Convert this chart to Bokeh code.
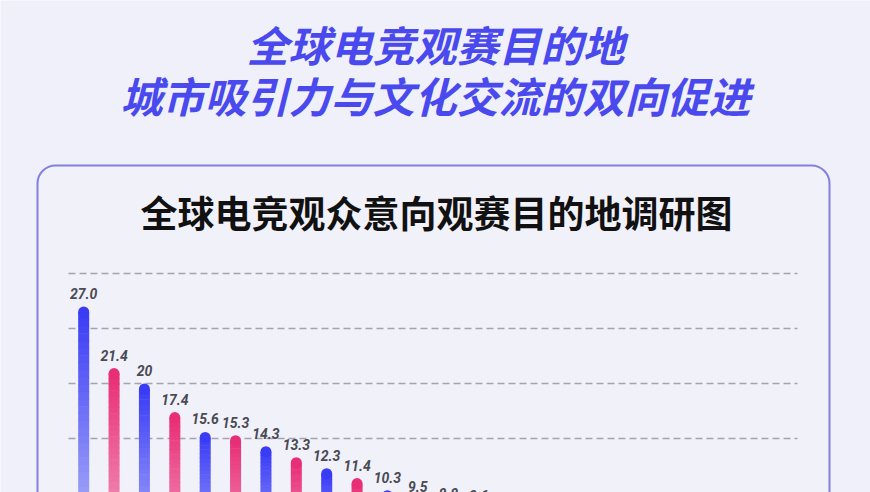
import numpy as np
from bokeh.plotting import figure
from bokeh.models import Range1d, Label, BoxAnnotation
from bokeh.core.properties import value
from bokeh.embed import file_html
from bokeh.resources import INLINE

# ---------------- data ----------------
title_line1 = "全球电竞观赛目的地"
title_line2 = "城市吸引力与文化交流的双向促进"
chart_title = "全球电竞观众意向观赛目的地调研图"

destinations = ["目的地01", "目的地02", "目的地03", "目的地04", "目的地05", "目的地06",
                "目的地07", "目的地08", "目的地09", "目的地10", "目的地11", "目的地12",
                "目的地13", "目的地14", "目的地15", "目的地16", "目的地17", "目的地18",
                "目的地19", "目的地20", "目的地21", "目的地22", "目的地23", "目的地24"]
audience_share = [27.0, 21.4, 20.0, 17.4, 15.6, 15.3, 14.3, 13.3, 12.3, 11.4, 10.3, 9.5,
                  8.8, 8.6, 8.5, 8.4, 8.4, 8.2, 8.0, 7.8, 7.5, 7.2, 6.9, 6.5]
value_labels = ["27.0", "21.4", "20", "17.4", "15.6", "15.3", "14.3", "13.3", "12.3", "11.4",
                "10.3", "9.5", "8.8", "8.6", "8.5", "8.4", "8.4", "8.2", "8.0", "7.8",
                "7.5", "7.2", "6.9", "6.5"]
grid_values = [10, 15, 20, 25, 30]

# ---------------- styling ----------------
W, H = 870, 492
BG = "#eff0fa"
band_px = 30.375          # width of one category band in pixels
left_px = 68              # left edge of first band
px_per_unit = 11.0        # vertical scale
top_grid_px = 273         # pixel row of the highest gridline (value 30)
bar_w_px = 11.0

blue_top = np.array([58, 60, 245])
blue_bot = np.array([212, 214, 250])
pink_top = np.array([232, 46, 118])
pink_bot = np.array([246, 196, 218])

n = len(audience_share)
x_start = -0.5 - left_px / band_px
x_end = x_start + W / band_px
y_top = max(grid_values) + top_grid_px / px_per_unit
y_bot = y_top - H / px_per_unit

p = figure(width=W, height=H, x_range=Range1d(x_start, x_end), y_range=Range1d(y_bot, y_top),
           output_backend="svg", toolbar_location=None, min_border=0)
p.axis.visible = False
p.grid.visible = False
p.outline_line_color = None
p.background_fill_color = BG
p.border_fill_color = BG

# card
card = BoxAnnotation(left=37, right=829, top=H - 165, bottom=-60,
                     left_units="screen", right_units="screen",
                     top_units="screen", bottom_units="screen",
                     fill_color="white", fill_alpha=0.12,
                     line_color="#8380e2", line_alpha=1.0, line_width=2,
                     border_radius=18, level="underlay")
p.add_layout(card)

# titles
p.add_layout(Label(x=W / 2, y=H - 43, x_units="screen", y_units="screen", text=title_line1,
                   text_align="center", text_baseline="middle",
                   text_font="Noto Sans CJK SC", text_font_style="bold italic",
                   text_font_size="42px", text_color="#4a49ee"))
p.add_layout(Label(x=W / 2, y=H - 94, x_units="screen", y_units="screen", text=title_line2,
                   text_align="center", text_baseline="middle",
                   text_font="Noto Sans CJK SC", text_font_style="bold italic",
                   text_font_size="42px", text_color="#4a49ee"))
p.add_layout(Label(x=W / 2 + 1, y=H - 211, x_units="screen", y_units="screen", text=chart_title,
                   text_align="center", text_baseline="middle",
                   text_font="Noto Sans CJK SC", text_font_style="bold",
                   text_font_size="37px", text_color="#111111"))

# dashed gridlines
p.segment(x0=[-0.5] * len(grid_values), x1=[n - 0.5] * len(grid_values),
          y0=grid_values, y1=grid_values,
          line_color="#a4a4ae", line_width=1.3, line_dash="7 4")

# gradient bars built from the values
bar_w = bar_w_px / band_px
cap_r = (bar_w_px / 2) / px_per_unit
N = 40
lefts, rights, bottoms, tops, colors = [], [], [], [], []
cap_x, cap_y, cap_c = [], [], []
for i, v in enumerate(audience_share):
    c_top, c_bot = (blue_top, blue_bot) if i % 2 == 0 else (pink_top, pink_bot)
    body = v - cap_r
    for k in range(N):
        t = (k + 0.5) / N
        col = c_bot + (c_top - c_bot) * t
        lefts.append(i - bar_w / 2)
        rights.append(i + bar_w / 2)
        bottoms.append(body * k / N)
        tops.append(min(body * (k + 1) / N + 0.05, body))
        colors.append("#%02x%02x%02x" % tuple(int(round(c)) for c in col))
    cap_x.append(i)
    cap_y.append(body)
    cap_c.append("#%02x%02x%02x" % tuple(int(c) for c in c_top))

p.quad(left=lefts, right=rights, bottom=bottoms, top=tops, fill_color=colors, line_color=None)
p.scatter(x=cap_x, y=cap_y, size=bar_w_px, marker="circle", fill_color=cap_c, line_color=None)

# value labels
p.text(x=list(range(n)), y=audience_share, text=value_labels, y_offset=-13,
       text_align="center", text_baseline="alphabetic",
       text_font=value("Roboto"), text_font_style="bold italic",
       text_font_size="14px", text_color="#4a4a54")

open("out.html", "w").write(file_html(p, INLINE))
